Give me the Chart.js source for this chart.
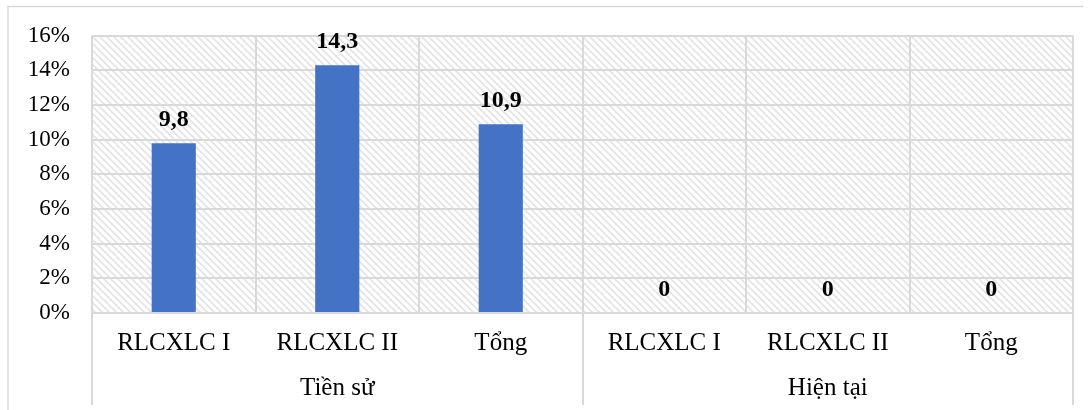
<!DOCTYPE html>
<html>
<head>
<meta charset="utf-8">
<script src="https://cdn.jsdelivr.net/npm/chart.js@4"></script>
<style>
  html, body { margin: 0; padding: 0; background: #ffffff; }
  #wrap { width: 1092px; height: 410px; position: relative; }
</style>
</head>
<body>
<div id="wrap"><canvas id="c" width="1092" height="410"></canvas></div>
<script>
// Categories along the x axis and their two groups
const categories = ['RLCXLC I', 'RLCXLC II', 'Tổng', 'RLCXLC I', 'RLCXLC II', 'Tổng'];
const groups = ['Tiền sử', 'Hiện tại'];
const groupSize = 3;

// Percentages per category
const values = [9.8, 14.3, 10.9, 0, 0, 0];
// Value labels written above each bar
const valueLabels = ['9,8', '14,3', '10,9', '0', '0', '0'];

const yMax = 16;
const yStep = 2;

const serif = '"Liberation Serif", "Times New Roman", serif';
const gridColor = '#d9d9d9';

// Tile for the diagonal hatch that fills the plot area
const hatchTile = (function () {
  const t = document.createElement('canvas');
  t.width = 7; t.height = 7;
  const g = t.getContext('2d');
  g.fillStyle = '#ffffff';
  g.fillRect(0, 0, 7, 7);
  g.strokeStyle = '#e3e3e3';
  g.lineWidth = 1.6;
  g.beginPath();
  g.moveTo(-1, -1); g.lineTo(8, 8);
  g.moveTo(-8, -1); g.lineTo(1, 8);
  g.moveTo(6, -1); g.lineTo(15, 8);
  g.stroke();
  return t;
})();

const framePlugin = {
  id: 'frame',
  beforeDraw(chart) {
    const ctx = chart.ctx;
    const a = chart.chartArea;
    ctx.save();
    ctx.fillStyle = '#ffffff';
    ctx.fillRect(0, 0, chart.width, chart.height);
    // outer border
    ctx.strokeStyle = '#d9d9d9';
    ctx.lineWidth = 1.5;
    ctx.beginPath();
    ctx.moveTo(8, chart.height);
    ctx.lineTo(8, 6.5);
    ctx.lineTo(1083, 6.5);
    ctx.stroke();
    // hatched plot background
    ctx.fillStyle = ctx.createPattern(hatchTile, 'repeat');
    ctx.fillRect(a.left, a.top, a.right - a.left, a.bottom - a.top);
    ctx.restore();
  },
  afterDraw(chart) {
    const ctx = chart.ctx;
    const x = chart.scales.x;
    const a = chart.chartArea;
    const half = (x.getPixelForValue(1) - x.getPixelForValue(0)) / 2;
    ctx.save();
    // group separators below the axis
    ctx.strokeStyle = gridColor;
    ctx.lineWidth = 2;
    ctx.beginPath();
    for (let g = 0; g <= groups.length; g++) {
      const idx = g * groupSize;
      const px = Math.round(idx < categories.length ? x.getPixelForValue(idx) - half : x.getPixelForValue(categories.length - 1) + half);
      ctx.moveTo(px, a.bottom);
      ctx.lineTo(px, 405);
    }
    ctx.stroke();
    // group labels
    ctx.fillStyle = '#000000';
    ctx.font = '25px ' + serif;
    ctx.textAlign = 'center';
    ctx.textBaseline = 'middle';
    groups.forEach((name, g) => {
      const c0 = x.getPixelForValue(g * groupSize) - half;
      const c1 = x.getPixelForValue(g * groupSize + groupSize - 1) + half;
      ctx.fillText(name, (c0 + c1) / 2, 388);
    });
    // value labels above bars
    const y = chart.scales.y;
    ctx.font = 'bold 24px ' + serif;
    ctx.textBaseline = 'alphabetic';
    values.forEach((v, i) => {
      ctx.fillText(valueLabels[i], x.getPixelForValue(i), y.getPixelForValue(v) - 17);
    });
    ctx.restore();
  }
};

new Chart(document.getElementById('c'), {
  type: 'bar',
  data: {
    labels: categories,
    datasets: [{
      data: values,
      backgroundColor: '#4472C4',
      borderWidth: 0,
      categoryPercentage: 1,
      barPercentage: 0.27
    }]
  },
  options: {
    responsive: false,
    animation: false,
    events: [],
    layout: { padding: { left: 0, right: 19, top: 33, bottom: 0 } },
    plugins: {
      legend: { display: false },
      tooltip: { enabled: false },
      title: { display: false }
    },
    scales: {
      x: {
        grid: { color: gridColor, lineWidth: 2, drawTicks: false, offset: true },
        border: { color: gridColor, width: 2 },
        ticks: {
          color: '#000000',
          font: { family: serif, size: 25 },
          padding: 15,
          maxRotation: 0,
          autoSkip: false
        },
        afterFit(scale) { scale.height = 97; }
      },
      y: {
        min: 0,
        max: yMax,
        grid: { color: gridColor, lineWidth: 2, drawTicks: false },
        border: { display: false },
        ticks: {
          stepSize: yStep,
          color: '#000000',
          font: { family: serif, size: 23 },
          padding: 22,
          callback: v => v + '%'
        },
        afterFit(scale) { scale.width = 92; }
      }
    }
  },
  plugins: [framePlugin]
});
</script>
</body>
</html>
